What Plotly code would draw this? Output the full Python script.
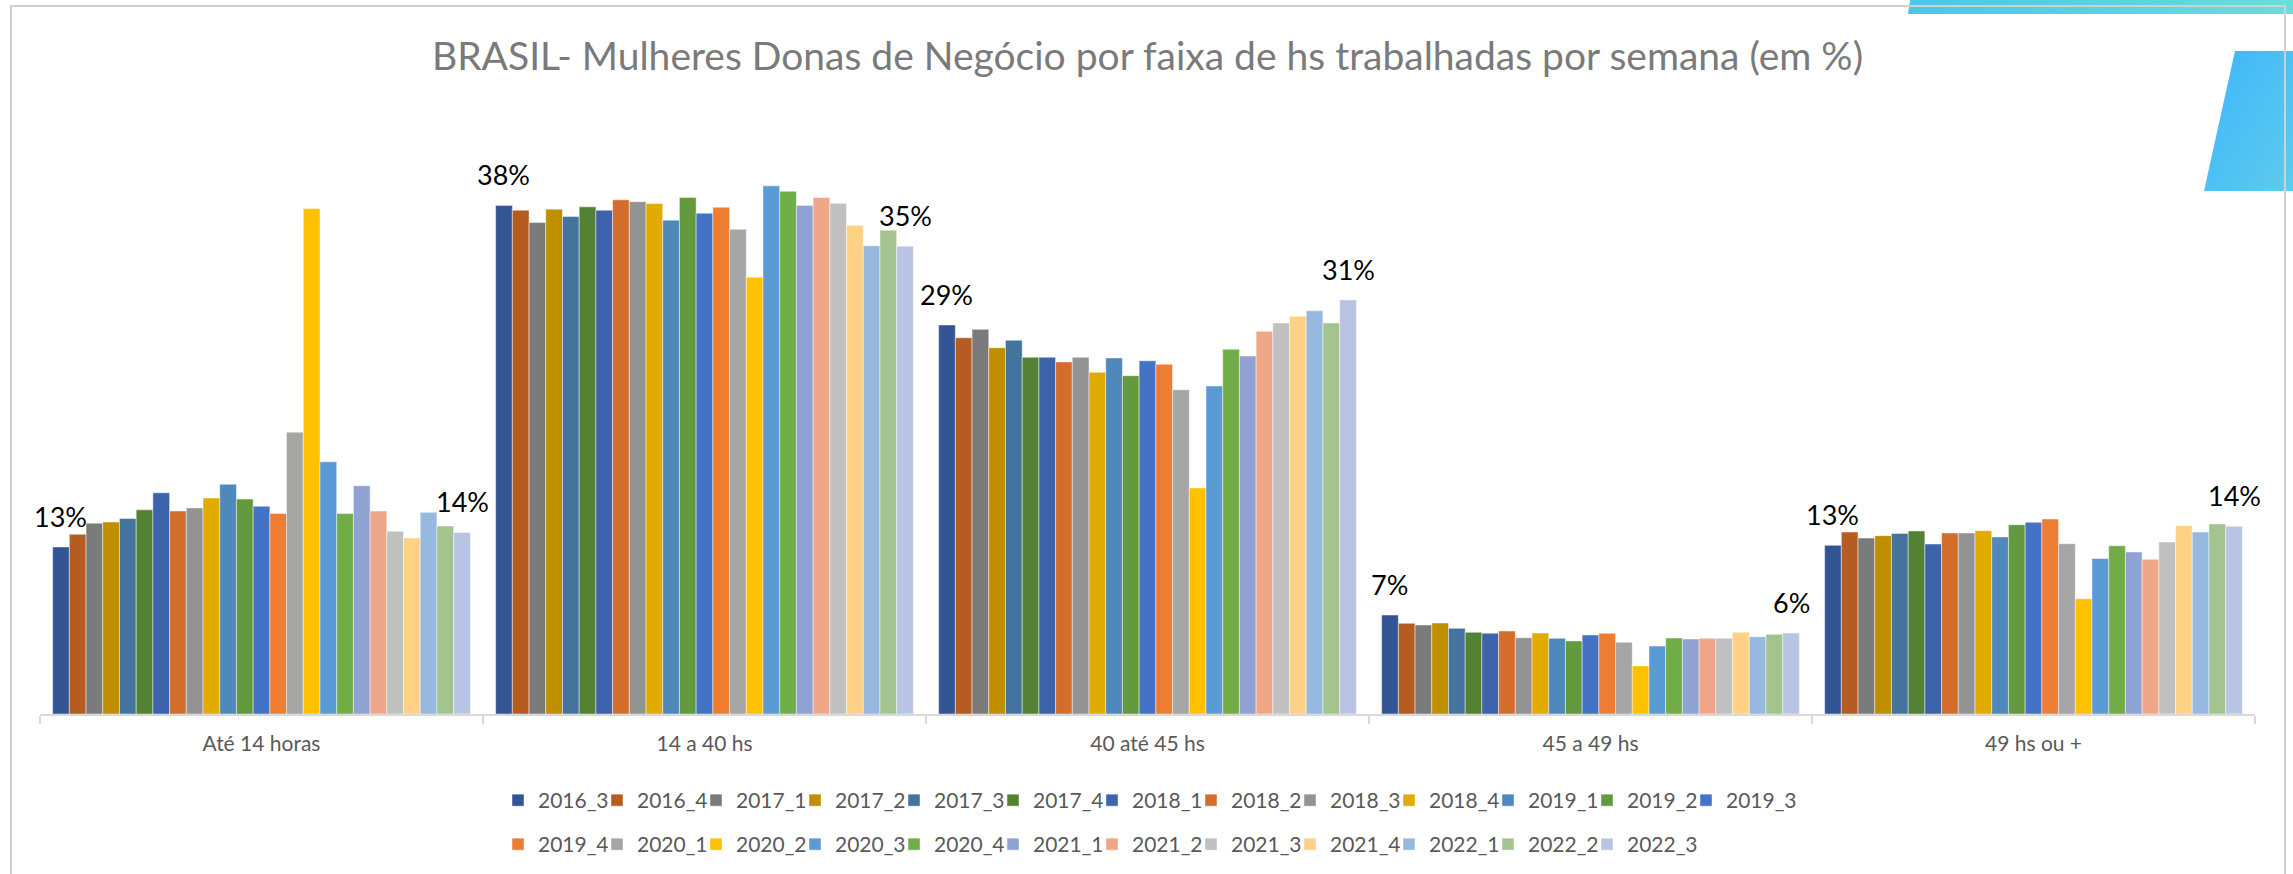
import base64
import plotly.graph_objects as go

# Categories (hours worked per week) and survey periods
categories = ["Até 14 horas", "14 a 40 hs", "40 até 45 hs", "45 a 49 hs", "49 hs ou +"]
periods = [
    "2016_3", "2016_4", "2017_1", "2017_2", "2017_3", "2017_4", "2018_1", "2018_2",
    "2018_3", "2018_4", "2019_1", "2019_2", "2019_3", "2019_4", "2020_1", "2020_2",
    "2020_3", "2020_4", "2021_1", "2021_2", "2021_3", "2021_4", "2022_1", "2022_2",
    "2022_3",
]

# Share of women business owners (%) in each band, one value per period
ate_14h = [12.56, 13.51, 14.35, 14.43, 14.70, 15.35, 16.63, 15.26, 15.49, 16.24, 17.27, 16.16, 15.62,
           15.07, 21.19, 38.00, 18.96, 15.07, 17.16, 15.26, 13.74, 13.23, 15.16, 14.13, 13.65]
de_14_a_40h = [38.24, 37.88, 36.96, 37.96, 37.41, 38.13, 37.88, 38.66, 38.52, 38.38, 37.13, 38.83, 37.65,
               38.10, 36.44, 32.84, 39.71, 39.30, 38.24, 38.83, 38.40, 36.74, 35.21, 36.38, 35.16]
de_40_a_45h = [29.25, 28.29, 28.92, 27.54, 28.10, 26.82, 26.82, 26.47, 26.82, 25.69, 26.77, 25.44, 26.56,
               26.29, 24.38, 16.99, 24.66, 27.42, 26.92, 28.77, 29.40, 29.90, 30.32, 29.40, 31.13]
de_45_a_49h = [7.44, 6.82, 6.69, 6.84, 6.44, 6.14, 6.07, 6.24, 5.74, 6.09, 5.69, 5.49, 5.94,
               6.07, 5.39, 3.61, 5.11, 5.71, 5.64, 5.69, 5.69, 6.14, 5.81, 5.99, 6.09]
de_49h_mais = [12.68, 13.68, 13.23, 13.41, 13.58, 13.76, 12.78, 13.61, 13.61, 13.78, 13.31, 14.23, 14.41,
               14.66, 12.80, 8.67, 11.70, 12.65, 12.18, 11.63, 12.93, 14.16, 13.68, 14.29, 14.11]

bands = [ate_14h, de_14_a_40h, de_40_a_45h, de_45_a_49h, de_49h_mais]

colors = [
    "#335593", "#B45C22", "#7B7B7B", "#BF8F00", "#44739E", "#548235", "#3D63AD", "#D26D2C",
    "#939393", "#E2AB00", "#4F88BB", "#649A3F", "#4472C4", "#ED7D31", "#A5A5A5", "#FFC000",
    "#5B9BD5", "#70AD47", "#8FA2D3", "#EFA689", "#C0C0C0", "#FED185", "#98B9DF", "#A3C48F",
    "#B9C3E3",
]

# Page geometry (pixels)
W, H = 2293, 874
ML, MR, MT, MB = 40, 38, 140, 160
PX_PER_PCT = 13.3
BARGAP = 0.057
FONT = "Lato"
ROW_SIZE = 13  # legend entries on the first row

plot_w = W - ML - MR
plot_h = H - MT - MB


def px_x(px):
    return (px - ML) / plot_w


def px_y(py):
    return (H - MB - py) / plot_h


fig = go.Figure()
n = len(periods)
for i, period in enumerate(periods):
    last_in_row = i in (ROW_SIZE - 1, n - 1)
    fig.add_trace(go.Bar(
        name=period,
        x=categories,
        y=[band[i] for band in bands],
        marker=dict(color=colors[i], line=dict(color="rgba(255,255,255,0.45)", width=1)),
        legend="legend" if i < ROW_SIZE else "legend2",
        legendwidth=95 if last_in_row else None,
        hovertemplate="%{x}<br>" + period + ": %{y:.1f}%<extra></extra>",
    ))

# Value labels on the first and last period of every band
annotations = []
slot = (1 - BARGAP) / n
for i in (0, n - 1):
    offset = -(1 - BARGAP) / 2 + (i + 0.5) * slot
    for c, band in enumerate(bands):
        annotations.append(dict(
            x=c + offset, y=band[i], xref="x", yref="y",
            text=f"{band[i]:.0f}%", showarrow=False,
            yanchor="bottom", xanchor="center", yshift=12,
            font=dict(family=FONT, size=27, color="#000000"),
        ))

# Decorative accents at the top-right corner
teal_svg = (
    '<svg xmlns="http://www.w3.org/2000/svg" width="385" height="14" viewBox="0 0 385 14" preserveAspectRatio="none">'
    '<defs><linearGradient id="g" x1="0" y1="0" x2="1" y2="0">'
    '<stop offset="0" stop-color="#4CC5E9"/><stop offset="1" stop-color="#6BDDDA"/></linearGradient></defs>'
    '<polygon points="2,0 385,0 385,14 0,14" fill="url(#g)"/></svg>'
)
blue_svg = (
    '<svg xmlns="http://www.w3.org/2000/svg" width="89" height="140" viewBox="0 0 89 140" preserveAspectRatio="none">'
    '<defs><linearGradient id="b" x1="0" y1="0" x2="1" y2="1">'
    '<stop offset="0" stop-color="#3DB5FA"/><stop offset="1" stop-color="#5ECCEE"/></linearGradient></defs>'
    '<polygon points="31,0 89,0 89,140 0,140" fill="url(#b)"/></svg>'
)


def svg_uri(svg):
    return "data:image/svg+xml;base64," + base64.b64encode(svg.encode()).decode()


images = [
    dict(source=svg_uri(teal_svg), xref="paper", yref="paper",
         x=px_x(1908), y=px_y(0), sizex=385 / plot_w, sizey=14 / plot_h,
         xanchor="left", yanchor="top", sizing="stretch", layer="below"),
    dict(source=svg_uri(blue_svg), xref="paper", yref="paper",
         x=px_x(2204), y=px_y(51), sizex=89 / plot_w, sizey=140 / plot_h,
         xanchor="left", yanchor="top", sizing="stretch", layer="below"),
]

shapes = [
    dict(type="rect", xref="paper", yref="paper",
         x0=px_x(11), x1=px_x(2285), y0=px_y(6), y1=px_y(H + 20),
         line=dict(color="#D0D0D0", width=2), fillcolor="rgba(0,0,0,0)", layer="above"),
]

legend_common = dict(
    orientation="h", xref="container", yref="container",
    xanchor="left", yanchor="top",
    entrywidth=54, entrywidthmode="pixels", itemwidth=30,
    font=dict(family=FONT, size=21, color="#595959"),
    bgcolor="rgba(0,0,0,0)", borderwidth=0, traceorder="normal",
)

fig.update_layout(
    width=W, height=H,
    margin=dict(l=ML, r=MR, t=MT, b=MB, pad=0),
    paper_bgcolor="white", plot_bgcolor="rgba(0,0,0,0)",
    barmode="group", bargap=BARGAP, bargroupgap=0,
    title=dict(
        text="BRASIL- Mulheres Donas de Negócio por faixa de hs trabalhadas por semana (em %)",
        x=0.5, xref="paper", xanchor="center",
        y=1 - 56 / H, yref="container", yanchor="middle",
        font=dict(family=FONT, size=39, color="#7A7A7A"),
    ),
    xaxis=dict(
        type="category", range=[-0.5, 4.5],
        showline=True, linecolor="#D9D9D9", linewidth=2,
        ticks="outside", tickson="boundaries", ticklen=8, tickwidth=2, tickcolor="#D9D9D9",
        ticklabelstandoff=10,
        tickfont=dict(family=FONT, size=21, color="#595959"),
        showgrid=False, zeroline=False, fixedrange=True,
    ),
    yaxis=dict(visible=False, range=[0, plot_h / PX_PER_PCT], fixedrange=True),
    legend=dict(x=498 / W, y=1 - 780 / H, **legend_common),
    legend2=dict(x=498 / W, y=1 - 824 / H, **legend_common),
    annotations=annotations,
    images=images,
    shapes=shapes,
    font=dict(family=FONT),
)

fig.write_html("out.html")
